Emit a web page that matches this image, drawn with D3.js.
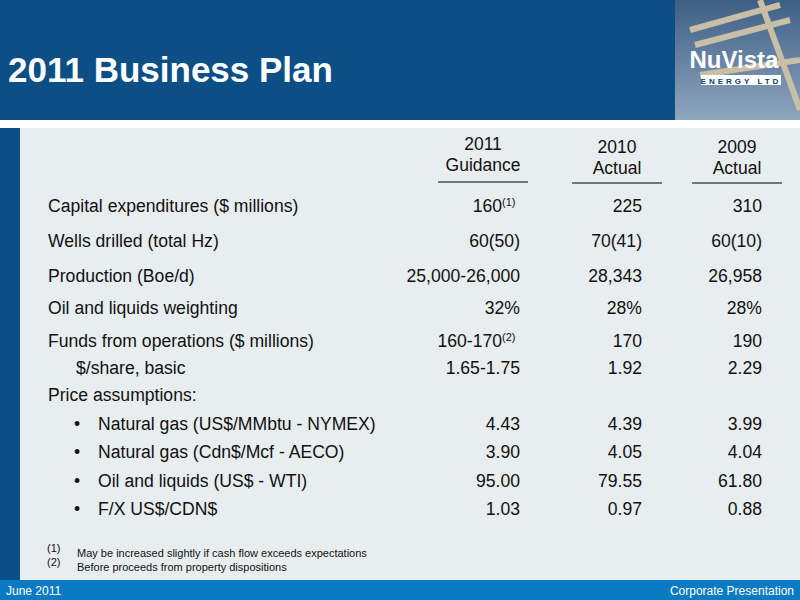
<!DOCTYPE html><html><head><meta charset="utf-8">
<script src="https://cdn.jsdelivr.net/npm/d3@7"></script>
<style>body{margin:0}svg{font-family:"Liberation Sans",Arial,sans-serif}</style></head><body>
<script>
const labels=["Capital expenditures ($ millions)","Wells drilled (total Hz)","Production (Boe/d)","Oil and liquids weighting","Funds from operations ($ millions)","$/share, basic","Price assumptions:","Natural gas (US$/MMbtu - NYMEX)","Natural gas (Cdn$/Mcf - AECO)","Oil and liquids (US$ - WTI)","F/X US$/CDN$"];
const indent=[0,0,0,0,0,1,0,2,2,2,2];
const guidance=["160","60(50)","25,000-26,000","32%","160-170","1.65-1.75","","4.43","3.90","95.00","1.03"];
const guidanceNote=["(1)","","","","(2)","","","","","",""];
const actual2010=["225","70(41)","28,343","28%","170","1.92","","4.39","4.05","79.55","0.97"];
const actual2009=["310","60(10)","26,958","28%","190","2.29","","3.99","4.04","61.80","0.88"];
const rowY=[212,247,282,314,347,374,401,430,458,487,515];
const heads=[["2011","Guidance"],["2010","Actual"],["2009","Actual"]];
const footnotes=[["(1)","May be increased slightly if cash flow exceeds expectations"],["(2)","Before proceeds from property dispositions"]];

const svg=d3.select("body").append("svg").attr("width",800).attr("height",600);
svg.append("rect").attr("width",800).attr("height",600).attr("fill","#fff");
svg.append("rect").attr("width",675).attr("height",120).attr("fill","#0b4f86");
const g=svg.append("defs").append("linearGradient").attr("id","sky").attr("x1",0).attr("y1",0).attr("x2",0).attr("y2",1);
g.append("stop").attr("offset",0).attr("stop-color","#3e5f86");g.append("stop").attr("offset",1).attr("stop-color","#8fa6bf");
svg.append("rect").attr("x",675).attr("width",125).attr("height",120).attr("fill","url(#sky)");
[[690,30,780,5],[695,45,790,20],[700,75,800,60],[760,0,800,110]].forEach(l=>svg.append("line").attr("x1",l[0]).attr("y1",l[1]).attr("x2",l[2]).attr("y2",l[3]).attr("stroke","#c9bfa6").attr("stroke-width",6));
svg.append("text").attr("x",734).attr("y",68).attr("text-anchor","middle").attr("fill","#fff").attr("font-size",24).attr("font-weight","bold").text("NuVista");
svg.append("rect").attr("x",701).attr("y",75).attr("width",80).attr("height",10).attr("fill","#fff");
svg.append("text").attr("x",741).attr("y",84).attr("text-anchor","middle").attr("fill","#0b3f70").attr("font-size",8).attr("font-weight","bold").attr("letter-spacing",3).text("ENERGY LTD");
svg.append("text").attr("x",8).attr("y",82).attr("fill","#fff").attr("font-size",35).attr("font-weight","bold").text("2011 Business Plan");
svg.append("rect").attr("y",128).attr("width",20).attr("height",452).attr("fill","#0b4f86");
svg.append("rect").attr("x",20).attr("y",128).attr("width",780).attr("height",452).attr("fill","#e8edf0");
svg.append("rect").attr("y",580).attr("width",800).attr("height",20).attr("fill","#0a7ac2");
svg.append("text").attr("x",6).attr("y",595).attr("fill","#fff").attr("font-size",12).text("June 2011");
svg.append("text").attr("x",794).attr("y",595).attr("text-anchor","end").attr("fill","#fff").attr("font-size",12).text("Corporate Presentation");

const colC=d3.scaleOrdinal().domain([0,1,2]).range([483,617,737]);
const colR=d3.scaleOrdinal().domain([0,1,2]).range([520,642,762]);
heads.forEach((h,i)=>{
  const t=svg.append("text").attr("text-anchor","middle").attr("font-size",17.5).attr("fill","#111");
  t.append("tspan").attr("x",colC(i)).attr("y",150+(i==0?0:3)).text(h[0]);
  t.append("tspan").attr("x",colC(i)).attr("y",171+(i==0?0:3)).text(h[1]);
  svg.append("line").attr("x1",colC(i)-45).attr("x2",colC(i)+45).attr("y1",182+(i==0?0:1)).attr("y2",182+(i==0?0:1)).attr("stroke","#000").attr("stroke-width",1.2);
});
const fs=17.6;
labels.forEach((l,i)=>{
  const y=rowY[i];
  if(indent[i]==2){
    svg.append("text").attr("x",74).attr("y",y).attr("font-size",fs).attr("fill","#111").text("•");
    svg.append("text").attr("x",98).attr("y",y).attr("font-size",fs).attr("fill","#111").text(l);
  } else svg.append("text").attr("x",indent[i]?76:48).attr("y",y).attr("font-size",fs).attr("fill","#111").text(l);
  const gt=svg.append("text").attr("x",colR(0)).attr("y",y).attr("text-anchor","end").attr("font-size",fs).attr("fill","#111").text(guidance[i]);
  if(guidanceNote[i]){gt.attr("x",colR(0)-18);svg.append("text").attr("x",colR(0)-18).attr("y",y-6).attr("font-size",11).attr("fill","#111").text(guidanceNote[i]);}
  svg.append("text").attr("x",colR(1)).attr("y",y).attr("text-anchor","end").attr("font-size",fs).attr("fill","#111").text(actual2010[i]);
  svg.append("text").attr("x",colR(2)).attr("y",y).attr("text-anchor","end").attr("font-size",fs).attr("fill","#111").text(actual2009[i]);
});
footnotes.forEach((f,i)=>{
  svg.append("text").attr("x",47).attr("y",552+i*14).attr("font-size",11).attr("fill","#111").text(f[0]);
  svg.append("text").attr("x",77).attr("y",557+i*14).attr("font-size",11).attr("fill","#111").text(f[1]);
});
</script></body></html>
